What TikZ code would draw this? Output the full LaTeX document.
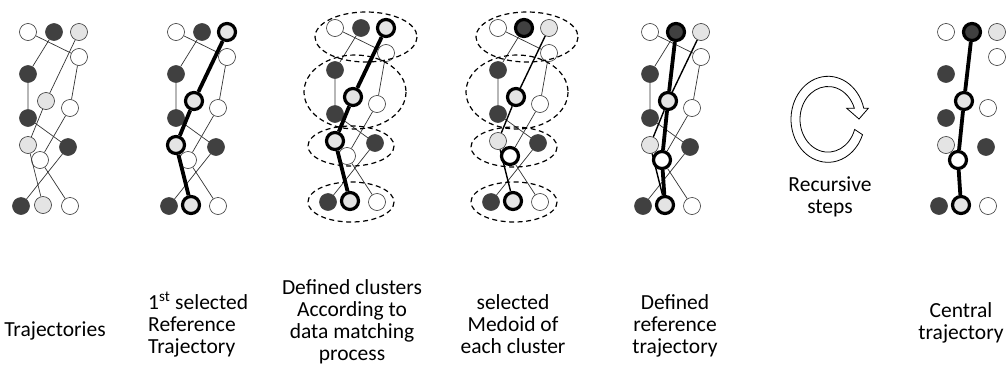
\documentclass[tikz,border=0pt]{standalone}
\usepackage{fontspec}
\setmainfont{Carlito}
\definecolor{dkc}{RGB}{64,64,64}
\definecolor{ltc}{RGB}{228,228,228}
\newcommand\mknodes[1]{%
 \node[wt,sA1] (#1A1) at (28,32) {};
 \node[dk,sA2] (#1A2) at (54,32) {};
 \node[lt,sA3] (#1A3) at (79,32) {};
 \node[wt,sB] (#1B) at (79,57) {};
 \node[dk,sC] (#1C) at (28,74) {};
 \node[lt,sD] (#1D) at (46,101) {};
 \node[wt,sE] (#1E) at (70,108) {};
 \node[dk,sF] (#1F) at (28,118) {};
 \node[lt,sG] (#1G) at (28,145) {};
 \node[dk,sH] (#1H) at (68,147) {};
 \node[wt,sI] (#1I) at (40,160) {};
 \node[dk,sJ] (#1J) at (21,206) {};
 \node[lt,sK] (#1K) at (43,205) {};
 \node[wt,sL] (#1L) at (70,206) {};}
\newcommand\wdlines[1]{%
 \draw[thinl] (#1A1)--(#1B)--(#1E)--(#1I)--(#1L);
 \draw[thinl] (#1A2)--(#1C)--(#1F)--(#1H)--(#1J);}
\begin{document}
\begin{tikzpicture}[x=1pt,y=-1pt,
  dot/.style={circle,minimum size=17pt,inner sep=0pt,draw=black!80,line width=0.6pt},
  wt/.style={dot,fill=white},
  lt/.style={dot,fill=ltc},
  dk/.style={dot,fill=dkc,draw=dkc},
  hl/.style={draw=black,line width=3.2pt},
  thinl/.style={line width=0.7pt,draw=black!80},
  medl/.style={line width=1.4pt,draw=black},
  boldl/.style={line width=3.8pt,draw=black},
  clus/.style={draw=black,dash pattern=on 5pt off 3.5pt,line width=1.2pt},
  lbl/.style={font=\fontsize{21.5}{22}\selectfont,inner sep=0pt},
  sA1/.style={},sA2/.style={},sA3/.style={},sB/.style={},sC/.style={},sD/.style={},
  sE/.style={},sF/.style={},sG/.style={},sH/.style={},sI/.style={},sJ/.style={},
  sK/.style={},sL/.style={}]
\fill[white] (0,0) rectangle (1008,367);
\useasboundingbox (0,0) rectangle (1008,367);
% panel 1
\begin{scope}[shift={(0,0)}]
 \mknodes{a}
 \wdlines{a}
 \draw[thinl] (aA3)--(aD)--(aG)--(aK);
\end{scope}
% panel 2
\begin{scope}[shift={(148,0)},sA3/.style=hl,sD/.style=hl,sG/.style=hl,sK/.style=hl]
 \mknodes{b}
 \wdlines{b}
 \draw[boldl] (bA3)--(bD)--(bG)--(bK);
\end{scope}
% panel 3
\begin{scope}[shift={(307,-4)},sA3/.style=hl,sD/.style=hl,sG/.style=hl,sK/.style=hl]
 \mknodes{c}
 \wdlines{c}
 \draw[boldl] (cA3)--(cD)--(cG)--(cK);
\end{scope}
\draw[clus] (366,37) ellipse [x radius=51,y radius=25];
\draw[clus] (355,92) ellipse [x radius=51,y radius=37];
\draw[clus] (351,146) ellipse [x radius=43,y radius=20];
\draw[clus] (351,202) ellipse [x radius=43,y radius=20];
% panel 4
\begin{scope}[shift={(470,-4)},sA2/.style=hl,sD/.style=hl,sI/.style=hl,sK/.style=hl]
 \mknodes{d}
 \wdlines{d}
 \draw[medl] (dA3)--(dD)--(dG)--(dK);
\end{scope}
\draw[clus] (527,37) ellipse [x radius=51,y radius=25];
\draw[clus] (517,92) ellipse [x radius=51,y radius=37];
\draw[clus] (514,147) ellipse [x radius=43,y radius=20];
\draw[clus] (514,202) ellipse [x radius=43,y radius=20];
% panel 5
\begin{scope}[shift={(622,0)},sA2/.style=hl,sD/.style=hl,sI/.style=hl,sK/.style=hl]
 \mknodes{e}
 \wdlines{e}
 \draw[medl] (eA3)--(eD)--(eG)--(eK);
 \draw[boldl] (eA2)--(eD)--(eI)--(eK);
\end{scope}
% panel 6
\begin{scope}[shift={(918,0)},sA2/.style=hl,sD/.style=hl,sI/.style=hl,sK/.style=hl]
 \mknodes{f}
 \draw[boldl] (fA2)--(fD)--(fI)--(fK);
\end{scope}
% recursive arrow
\begin{scope}[shift={(828,119.3)},y=1pt]
 \draw[line width=0.8pt,fill=white] (14.8:37 and 43)
   arc[start angle=14.8,end angle=339,x radius=37,y radius=43]
   -- (342:28 and 32.8)
   arc[start angle=342,end angle=19.6,x radius=28,y radius=32.8]
   -- (18.7,11) -- (31,0.3) -- (40.3,11) -- cycle;
\end{scope}
\node[lbl,anchor=base,align=center] (rec) at (830,213) {Recursive\\steps};
% labels
\node[lbl,anchor=base] (t1) at (55,336) {Trajectories};
\node[lbl,anchor=base west,align=left] (t2) at (148,353) {1\textsuperscript{st} selected\\Reference\\Trajectory};
\node[lbl,anchor=base,align=center] (t3) at (352,360) {Defined clusters\\According to\\data matching\\process};
\node[lbl,anchor=base,align=center] (t4) at (513,353) {selected\\Medoid of\\each cluster};
\node[lbl,anchor=base,align=center] (t5) at (675,353) {Defined\\reference\\trajectory};
\node[lbl,anchor=base,align=center] (t6) at (961,339) {Central\\trajectory};
\end{tikzpicture}
\end{document}
